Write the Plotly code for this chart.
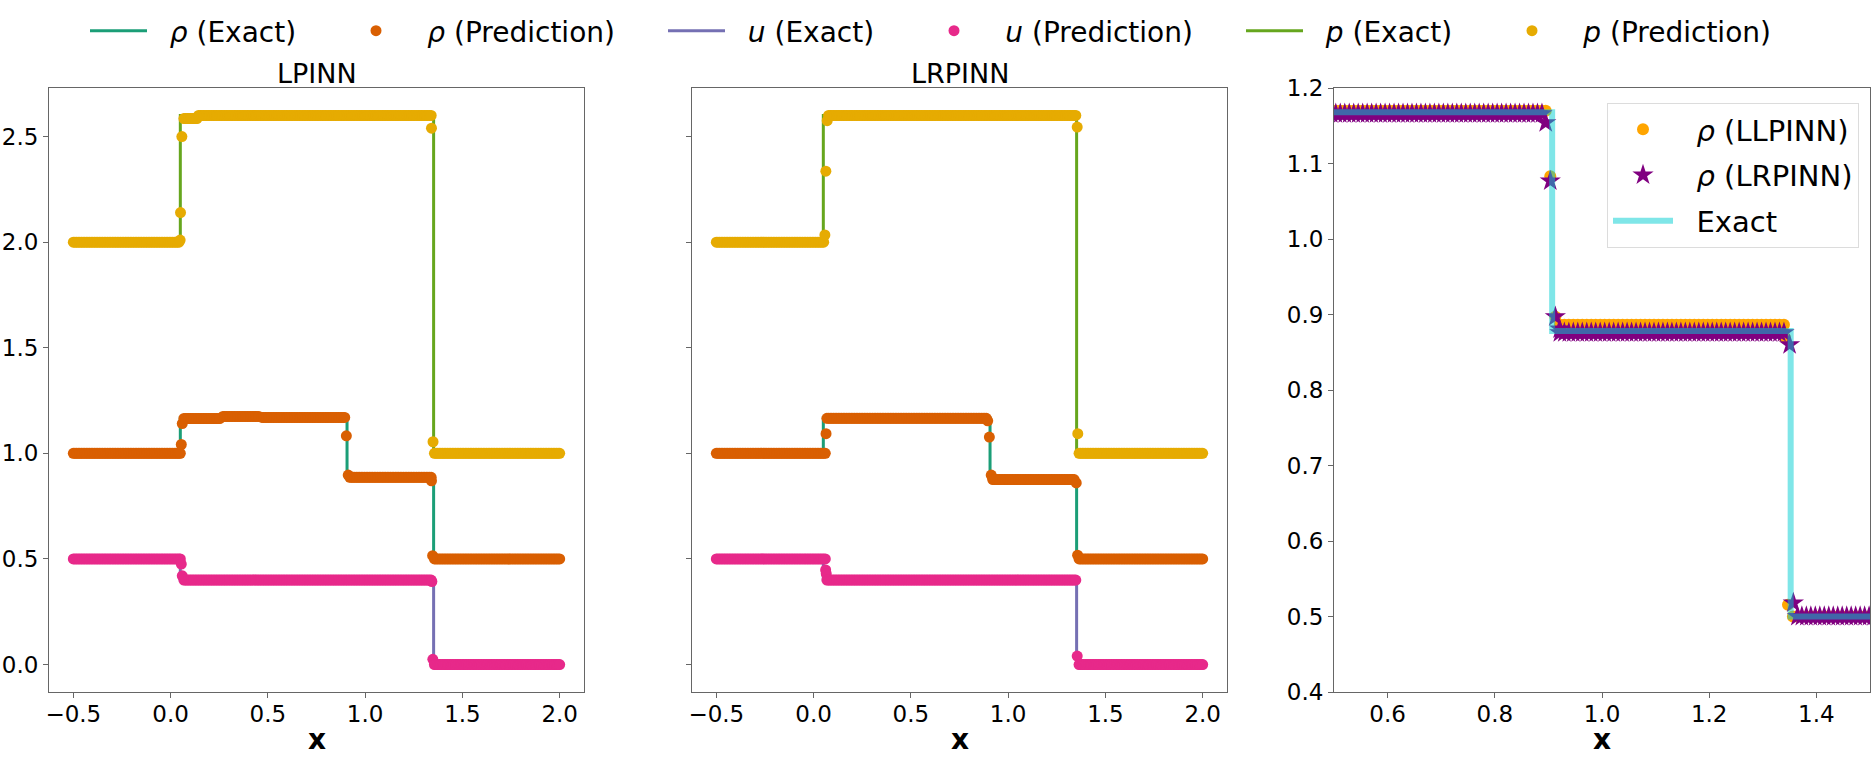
import numpy as np
import plotly.graph_objects as go

# ---------------- data ----------------
# prediction sampling grid (300 collocation points over the domain)
x_grid = np.linspace(-0.5, 2.0, 300)

# exact step profiles
exact_x = [-0.5, 0.05, 0.05, 0.907, 0.907, 1.352, 1.352, 2.0]
rho_exact = [1.0, 1.0, 1.168, 1.168, 0.878, 0.878, 0.5, 0.5]
u_exact = [0.5, 0.5, 0.4, 0.4, 0.4, 0.4, 0.0, 0.0]
p_exact = [2.0, 2.0, 2.6, 2.6, 2.6, 2.6, 1.0, 1.0]

# LPINN predictions: plateaus (x_start, x_end, level) + transition points
lp_rho_seg = [(-0.5, 0.045, 1.0), (0.065, 0.26, 1.165), (0.265, 0.46, 1.175),
              (0.465, 0.89, 1.17), (0.918, 1.34, 0.8865), (1.355, 2.0, 0.5)]
lp_rho_px = [0.05, 0.055, 0.06, 0.895, 0.9035, 0.913, 1.341, 1.347]
lp_rho_py = [1.0, 1.042, 1.141, 1.17, 1.083, 0.897, 0.87, 0.5156]

lp_u_seg = [(-0.5, 0.045, 0.5), (0.065, 1.34, 0.4), (1.355, 2.0, 0.0)]
lp_u_px = [0.05, 0.055, 0.06, 1.343, 1.348]
lp_u_py = [0.5, 0.476, 0.42, 0.393, 0.025]

lp_p_seg = [(-0.5, 0.045, 2.0), (0.062, 0.14, 2.585), (0.142, 1.34, 2.6), (1.355, 2.0, 1.0)]
lp_p_px = [0.049, 0.051, 0.058, 1.341, 1.349]
lp_p_py = [2.01, 2.14, 2.5, 2.54, 1.055]

# LRPINN predictions
lr_rho_seg = [(-0.5, 0.061, 1.0), (0.068, 0.89, 1.166), (0.918, 1.345, 0.876), (1.36, 2.0, 0.5)]
lr_rho_px = [0.064, 0.895, 0.9035, 0.913, 0.921, 1.35, 1.357]
lr_rho_py = [1.093, 1.154, 1.077, 0.897, 0.881, 0.86, 0.518]

lr_u_seg = [(-0.5, 0.061, 0.5), (0.068, 1.35, 0.4), (1.36, 2.0, 0.0)]
lr_u_px = [0.062, 0.065, 1.355]
lr_u_py = [0.448, 0.43, 0.04]

lr_p_seg = [(-0.5, 0.055, 2.0), (0.075, 1.35, 2.6), (1.36, 2.0, 1.0)]
lr_p_px = [0.058, 0.063, 0.07, 1.355, 1.358]
lr_p_py = [2.034, 2.336, 2.575, 2.545, 1.093]

titles = ["LPINN", "LRPINN"]
x_ticks_full = [-0.5, 0.0, 0.5, 1.0, 1.5, 2.0]
y_ticks_full = [0.0, 0.5, 1.0, 1.5, 2.0, 2.5]
x_ticks_zoom = [0.6, 0.8, 1.0, 1.2, 1.4]
y_ticks_zoom = [0.4, 0.5, 0.6, 0.7, 0.8, 0.9, 1.0, 1.1, 1.2]

# Dark2 palette
C_RHO_E, C_RHO_P = "#1b9e77", "#d95f02"
C_U_E, C_U_P = "#7570b3", "#e7298a"
C_P_E, C_P_P = "#66a61e", "#e6ab02"


def expand(segs, px, py):
    xs, ys = [], []
    for a, b, lev in segs:
        m = (x_grid >= a) & (x_grid <= b)
        xs.extend(x_grid[m].tolist())
        ys.extend([lev] * int(m.sum()))
    xs.extend(px)
    ys.extend(py)
    order = np.argsort(xs, kind="stable")
    return np.array(xs)[order], np.array(ys)[order]


FONT = "DejaVu Sans"
SP = "\u00a0\u00a0"
fig = go.Figure()

models = [
    (lp_rho_seg, lp_rho_px, lp_rho_py, lp_u_seg, lp_u_px, lp_u_py, lp_p_seg, lp_p_px, lp_p_py),
    (lr_rho_seg, lr_rho_px, lr_rho_py, lr_u_seg, lr_u_px, lr_u_py, lr_p_seg, lr_p_px, lr_p_py),
]

names = ["<i>ρ</i> (Exact)", "<i>ρ</i> (Prediction)", "<i>u</i> (Exact)",
         "<i>u</i> (Prediction)", "<i>p</i> (Exact)", "<i>p</i> (Prediction)"]

MS = 11
LW = 3
for i, m in enumerate(models):
    xa = "x" if i == 0 else "x2"
    ya = "y" if i == 0 else "y2"
    rx, ry = expand(m[0], m[1], m[2])
    ux, uy = expand(m[3], m[4], m[5])
    pxx, pyy = expand(m[6], m[7], m[8])
    show = i == 0
    fig.add_trace(go.Scatter(x=exact_x, y=rho_exact, mode="lines", line=dict(color=C_RHO_E, width=LW),
                             name=SP + names[0], xaxis=xa, yaxis=ya, showlegend=show, legend="legend"))
    fig.add_trace(go.Scatter(x=rx, y=ry, mode="markers", marker=dict(color=C_RHO_P, size=MS),
                             name=SP + names[1], xaxis=xa, yaxis=ya, showlegend=show, legend="legend2"))
    fig.add_trace(go.Scatter(x=exact_x, y=u_exact, mode="lines", line=dict(color=C_U_E, width=LW),
                             name=SP + names[2], xaxis=xa, yaxis=ya, showlegend=show, legend="legend3"))
    fig.add_trace(go.Scatter(x=ux, y=uy, mode="markers", marker=dict(color=C_U_P, size=MS),
                             name=SP + names[3], xaxis=xa, yaxis=ya, showlegend=show, legend="legend4"))
    fig.add_trace(go.Scatter(x=exact_x, y=p_exact, mode="lines", line=dict(color=C_P_E, width=LW),
                             name=SP + names[4], xaxis=xa, yaxis=ya, showlegend=show, legend="legend5"))
    fig.add_trace(go.Scatter(x=pxx, y=pyy, mode="markers", marker=dict(color=C_P_P, size=MS),
                             name=SP + names[5], xaxis=xa, yaxis=ya, showlegend=show, legend="legend6"))

# right panel: density zoom
lx, ly = expand(lp_rho_seg, lp_rho_px, lp_rho_py)
rx2, ry2 = expand(lr_rho_seg, lr_rho_px, lr_rho_py)
fig.add_trace(go.Scatter(x=lx, y=ly, mode="markers", marker=dict(color="#FFA500", size=12),
                         name=SP + "<i>ρ</i> (LLPINN)", xaxis="x3", yaxis="y3", legend="legend7",
                         legendgroup="a"))
fig.add_trace(go.Scatter(x=rx2, y=ry2, mode="markers", marker=dict(color="#800080", size=16, symbol="star"),
                         name=SP + "<i>ρ</i> (LRPINN)", xaxis="x3", yaxis="y3", legend="legend7",
                         legendgroup="b"))
fig.add_trace(go.Scatter(x=exact_x, y=rho_exact, mode="lines", line=dict(color="rgba(0,206,209,0.5)", width=6),
                         name=SP + "Exact", xaxis="x3", yaxis="y3", legend="legend7", legendgroup="c"))

W, H = 1874, 757
dom_x = [[49 / W, 584 / W], [692 / W, 1227 / W], [1334 / W, 1870 / W]]
dom_y = [65 / H, 669 / H]

axis_common = dict(showline=True, linecolor="#666666", linewidth=1, mirror=True, ticks="outside",
                   ticklen=5, tickcolor="#666666", tickwidth=1, showgrid=False, zeroline=False,
                   automargin=False, tickfont=dict(family=FONT, size=23, color="black"))
x_extra = dict(ticklabelstandoff=-4)

layout = dict(
    width=W, height=H, margin=dict(l=0, r=0, t=0, b=0, autoexpand=False),
    paper_bgcolor="white", plot_bgcolor="white",
    font=dict(family=FONT, color="black"),
    xaxis=dict(domain=dom_x[0], range=[-0.625, 2.125], tickvals=x_ticks_full, tickformat=".1f",
               anchor="y", **axis_common, **x_extra),
    yaxis=dict(domain=dom_y, range=[-0.13, 2.73], tickvals=y_ticks_full, tickformat=".1f",
               anchor="x", **axis_common),
    xaxis2=dict(domain=dom_x[1], range=[-0.625, 2.125], tickvals=x_ticks_full, tickformat=".1f",
                anchor="y2", **axis_common, **x_extra),
    yaxis2=dict(domain=dom_y, range=[-0.13, 2.73], tickvals=y_ticks_full, showticklabels=False,
                anchor="x2", **axis_common),
    xaxis3=dict(domain=dom_x[2], range=[0.5, 1.5], tickvals=x_ticks_zoom, tickformat=".1f",
                anchor="y3", **axis_common, **x_extra),
    yaxis3=dict(domain=dom_y, range=[0.4, 1.2], tickvals=y_ticks_zoom, tickformat=".1f",
                anchor="x3", **axis_common),
)

# top legend: one legend per entry so that spacing matches the original
legend_lefts = [85, 342.5, 663, 920.5, 1241, 1498.5]
for k, lft in enumerate(legend_lefts):
    key = "legend" if k == 0 else f"legend{k + 1}"
    layout[key] = dict(x=lft / W, xanchor="left", y=(H - 31) / H, yanchor="middle",
                       orientation="h", bgcolor="rgba(0,0,0,0)", borderwidth=0, itemwidth=57,
                       font=dict(family=FONT, size=28, color="black"))

layout["legend7"] = dict(x=1607 / W, xanchor="left", y=(H - 103) / H, yanchor="top",
                         bgcolor="white", bordercolor="#dcdcdc", borderwidth=1, itemwidth=60,
                         traceorder="grouped", tracegroupgap=5,
                         font=dict(family=FONT, size=29, color="black"))

fig.update_layout(**layout)

# subplot titles and x labels
for i, t in enumerate(titles):
    cx = (dom_x[i][0] + dom_x[i][1]) / 2
    fig.add_annotation(x=cx, y=(H - 73) / H, xref="paper", yref="paper", text=t, showarrow=False,
                       font=dict(family=FONT, size=27, color="black"), xanchor="center", yanchor="middle")
for i in range(3):
    cx = (dom_x[i][0] + dom_x[i][1]) / 2
    fig.add_annotation(x=cx, y=(H - 739) / H, xref="paper", yref="paper", text="<b>x</b>", showarrow=False,
                       font=dict(family=FONT, size=28, color="black"), xanchor="center", yanchor="middle")

fig.write_html("out.html", config={"displayModeBar": False},
               post_script="document.body.style.margin='0';")
